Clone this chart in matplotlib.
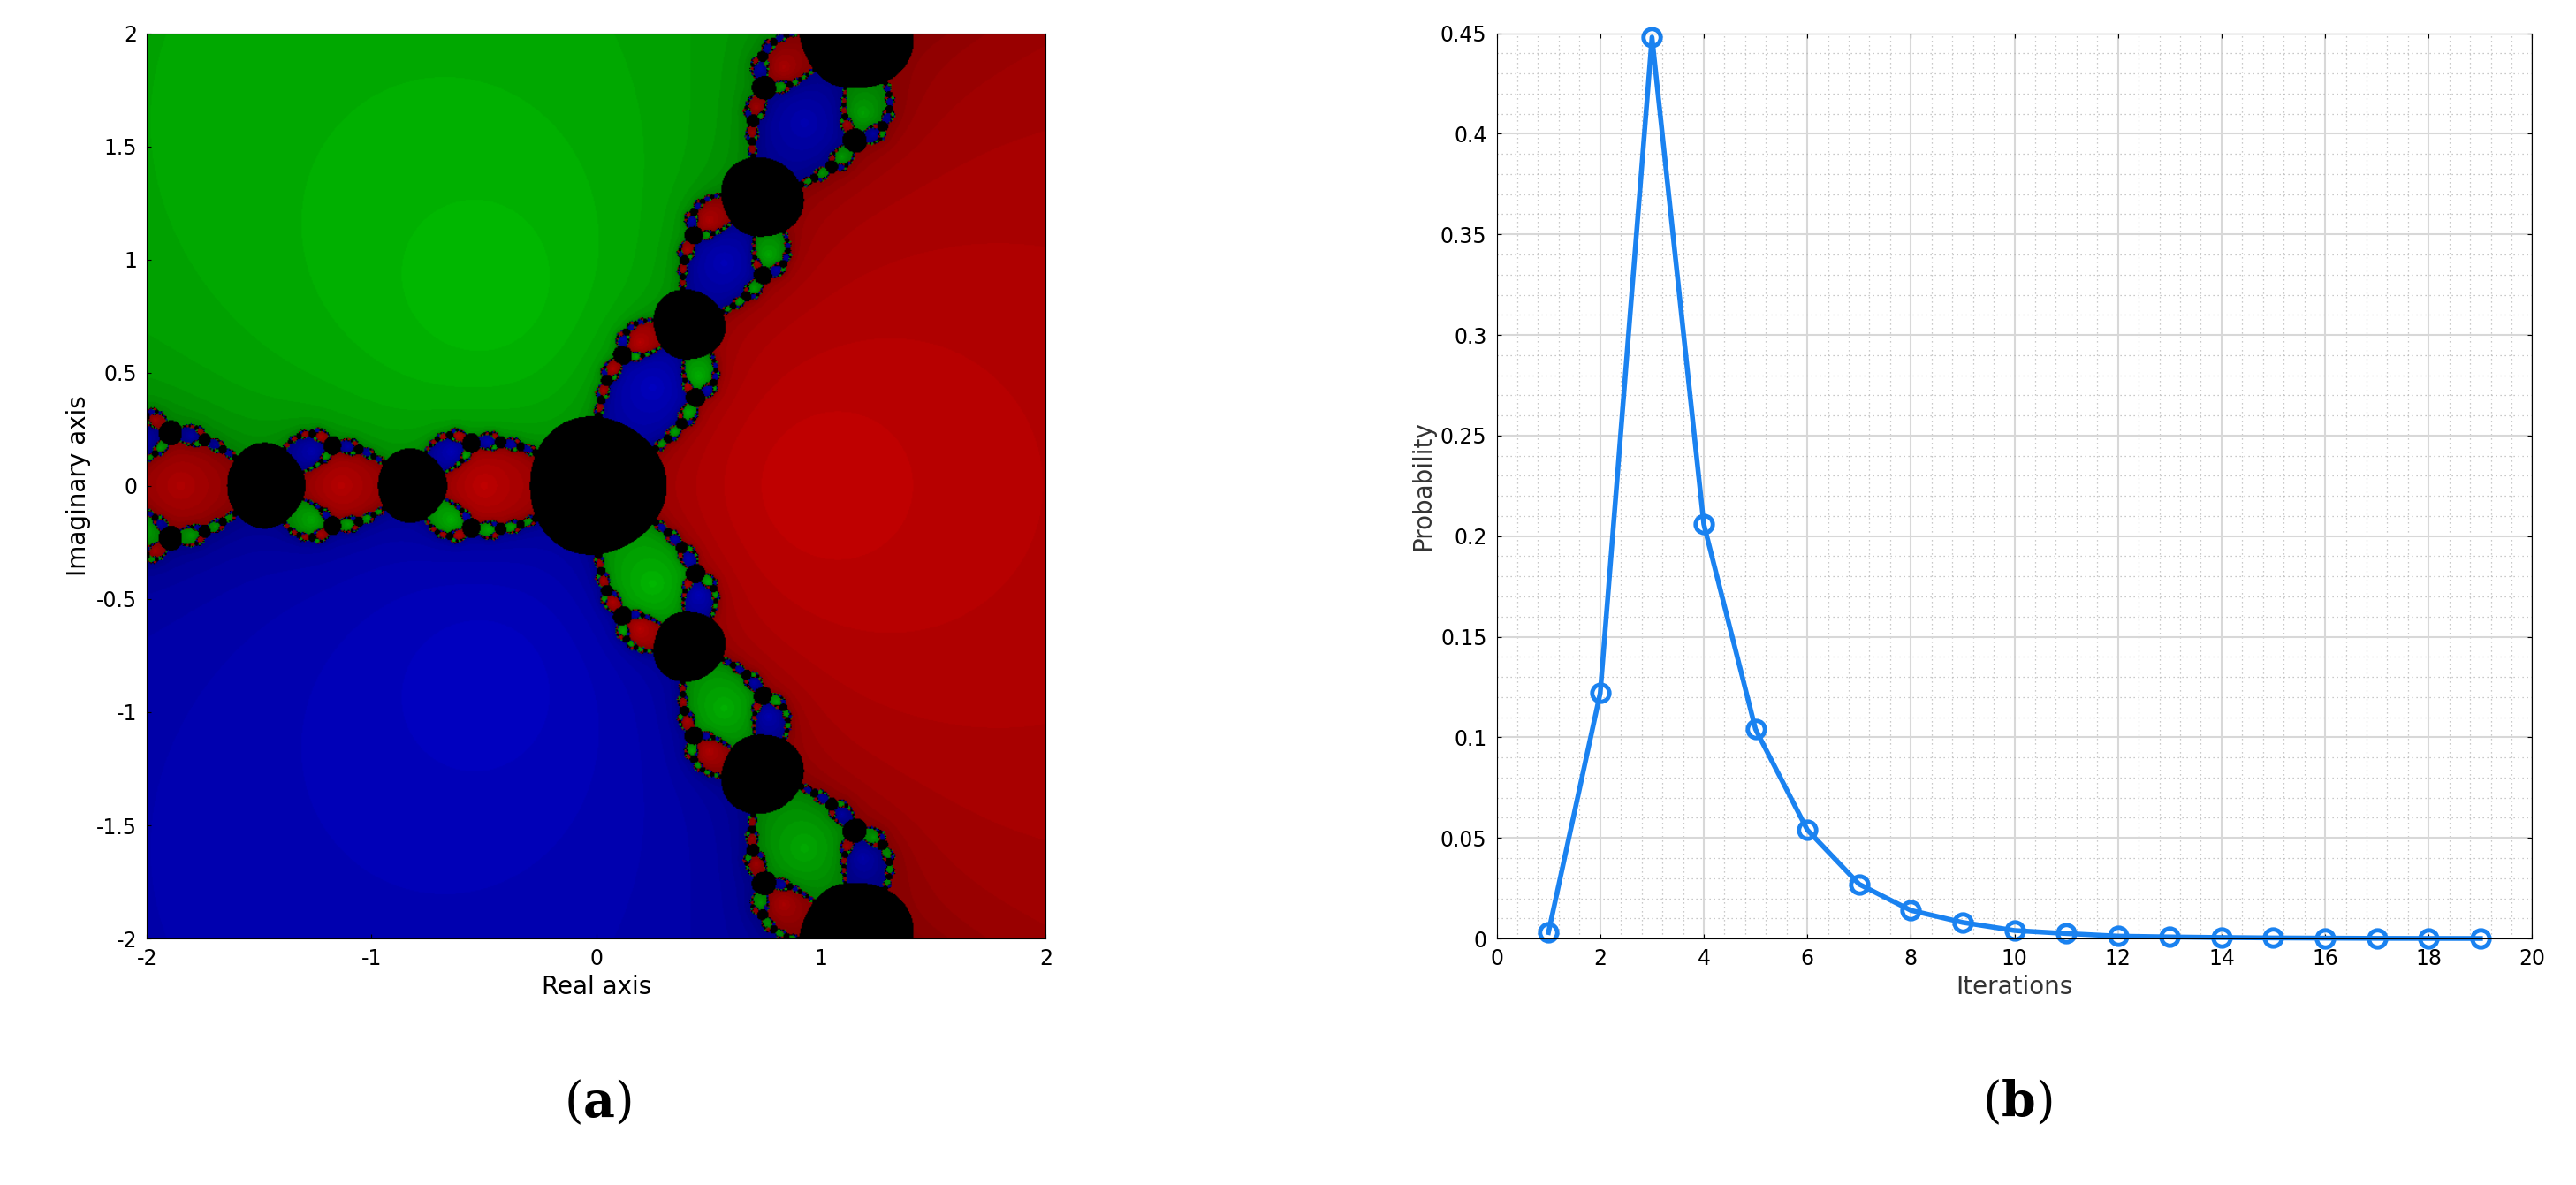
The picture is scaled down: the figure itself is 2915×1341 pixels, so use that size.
import numpy as np
import matplotlib
matplotlib.use("Agg")
import matplotlib.pyplot as plt
from matplotlib.ticker import MultipleLocator

# right panel data
iterations = list(range(1, 20))
probability = [0.003, 0.122, 0.448, 0.206, 0.104, 0.054, 0.027, 0.014, 0.008, 0.004,
               0.0025, 0.0012, 0.0008, 0.0005, 0.0003, 0.0002, 0.0001, 0.00006, 0.00003]

# left panel: basins of attraction of z^3 - 1 under Newton's method;
# black where the orbit is thrown far out (near 0 and its preimages)
roots = np.exp(2j * np.pi * np.arange(3) / 3)
root_colors = np.array([[0.75, 0.0, 0.0], [0.0, 0.72, 0.0], [0.0, 0.0, 0.75]])
max_iter = 40
tol = 1e-4
escape = 3.6

n = 900
xs = np.linspace(-2, 2, n)
X, Y = np.meshgrid(xs, xs[::-1])
Z = X + 1j * Y
Z[Z == 0] = 1e-12
which = -np.ones(Z.shape, dtype=int)
steps = np.zeros(Z.shape)
with np.errstate(all="ignore"):
    for k in range(max_iter):
        Z = Z - (Z ** 3 - 1) / (3 * Z ** 2)
        far = (which < 0) & ~(np.abs(Z) < escape)
        which[far] = 3
        for i, r in enumerate(roots):
            hit = (which < 0) & (np.abs(Z - r) < tol)
            which[hit] = i
            steps[hit] = k
img = np.zeros(Z.shape + (3,))
for i in range(3):
    m = which == i
    shade = np.clip(1.0 - 0.04 * (steps[m] - 2), 0.7, 1.0)
    img[m] = root_colors[i] * shade[:, None]

fig = plt.figure(figsize=(29.15, 13.41), dpi=100)
fs = 17

ax1 = fig.add_axes([0.057, 0.208, 0.349, 0.764])
ax1.imshow(img, extent=[-2, 2, -2, 2], aspect="auto", interpolation="bilinear")
ax1.set_xticks([-2, -1, 0, 1, 2])
ax1.set_yticks([-2, -1.5, -1, -0.5, 0, 0.5, 1, 1.5, 2])
ax1.set_yticklabels(["-2", "-1.5", "-1", "-0.5", "0", "0.5", "1", "1.5", "2"])
ax1.set_xticklabels(["-2", "-1", "0", "1", "2"])
ax1.tick_params(labelsize=fs, direction="in", pad=8)
ax1.set_xlabel("Real axis", fontsize=fs + 3)
ax1.set_ylabel("Imaginary axis", fontsize=fs + 3)

ax2 = fig.add_axes([0.581, 0.208, 0.402, 0.764])
ax2.plot(iterations, probability, color="#1a82f0", lw=4, marker="o", ms=14,
         mfc="none", mew=3.5, clip_on=False)
ax2.set_xlim(0, 20)
ax2.set_ylim(0, 0.45)
ax2.xaxis.set_major_locator(MultipleLocator(2))
ax2.xaxis.set_minor_locator(MultipleLocator(0.4))
ax2.yaxis.set_minor_locator(MultipleLocator(0.01))
ax2.set_yticks(np.arange(0, 0.451, 0.05))
ax2.set_yticklabels(["0", "0.05", "0.1", "0.15", "0.2", "0.25", "0.3", "0.35", "0.4", "0.45"])
ax2.grid(which="major", color="#d8d8d8", lw=1.5)
ax2.grid(which="minor", color="#b8b8b8", lw=0.9, ls=(0, (1, 3)))
ax2.set_axisbelow(True)
ax2.tick_params(labelsize=fs, direction="in", pad=8, top=True, right=True)
ax2.tick_params(which="minor", length=0)
ax2.set_xlabel("Iterations", fontsize=fs + 3, color="#333333")
ax2.set_ylabel("Probability", fontsize=fs + 3, color="#333333")

fig.text(0.232, 0.069, r"($\mathbf{a}$)", fontsize=40, ha="center", va="center",
         family="serif", math_fontfamily="dejavuserif")
fig.text(0.783, 0.069, r"($\mathbf{b}$)", fontsize=40, ha="center", va="center",
         family="serif", math_fontfamily="dejavuserif")

fig.savefig("out.png", dpi=100)
